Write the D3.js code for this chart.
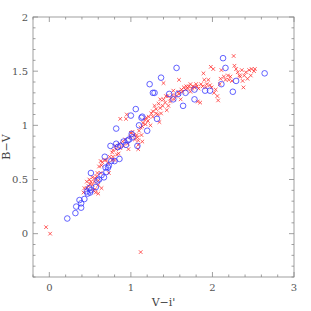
<!DOCTYPE html>
<html>
<head>
<meta charset="utf-8">
<script src="https://cdn.jsdelivr.net/npm/d3@7"></script>
<style>
  body { margin: 0; background: #fff; }
  .tick-label { font-family: "DejaVu Serif", serif; font-size: 10px; fill: #555; }
  .axis-title { font-family: "DejaVu Serif", serif; font-size: 11px; fill: #444; }
</style>
</head>
<body>
<div class="chart"></div>
<script>
var svgWidth = 311;
var svgHeight = 311;

var margin = { top: 17, right: 17, bottom: 34, left: 33 };
var width = svgWidth - margin.left - margin.right;
var height = svgHeight - margin.top - margin.bottom;

// blue circles: [V-i', B-V]
var circleX = [0.22, 0.32, 0.33, 0.37, 0.39, 0.39, 0.43, 0.46, 0.47, 0.49, 0.50, 0.51, 0.51, 0.57, 0.59,
  0.61, 0.64, 0.67, 0.68, 0.69, 0.70, 0.72, 0.73, 0.75, 0.76, 0.80, 0.82, 0.82, 0.84, 0.86, 0.87, 0.91,
  0.94, 0.96, 0.98, 1.01, 1.00, 1.02, 1.06, 1.08, 1.10, 1.14, 1.13, 1.20, 1.23, 1.27, 1.29, 1.32, 1.37,
  1.47, 1.52, 1.56, 1.58, 1.64, 1.67, 1.78, 1.78, 1.91, 1.97, 2.11, 2.13, 2.16, 2.25, 2.29, 2.64];
var circleY = [0.14, 0.19, 0.25, 0.31, 0.24, 0.28, 0.32, 0.39, 0.37, 0.42, 0.38, 0.40, 0.56, 0.43, 0.49,
  0.50, 0.54, 0.52, 0.71, 0.61, 0.57, 0.61, 0.63, 0.81, 0.67, 0.67, 0.97, 0.83, 0.80, 0.69, 0.81, 0.85,
  0.82, 0.86, 0.87, 0.92, 1.09, 0.89, 1.15, 0.81, 1.00, 1.08, 1.07, 0.95, 1.38, 1.30, 1.30, 1.06, 1.44,
  1.29, 1.24, 1.53, 1.29, 1.18, 1.30, 1.24, 1.33, 1.32, 1.32, 1.38, 1.62, 1.53, 1.31, 1.41, 1.48];

// red crosses: [V-i', B-V]
var crossX = [-0.04, 0.01, 1.12,
  0.46, 0.48, 0.50, 0.51, 0.53, 0.55, 0.56, 0.58, 0.60, 0.60, 0.57, 0.61, 0.63, 0.64, 0.65, 0.53, 0.49,
  0.46, 0.43, 0.42, 0.56, 0.54, 0.60, 0.64, 0.59,
  0.68, 0.70, 0.72, 0.74, 0.77, 0.78, 0.78, 0.81, 0.82, 0.80, 0.83, 0.86, 0.87, 0.90, 0.91, 0.93, 0.96,
  0.97, 0.99, 1.00, 1.02, 1.04, 1.05, 1.08, 1.09, 0.87, 0.94, 0.95, 0.85, 0.77, 0.73, 0.63,
  1.10, 1.12, 1.13, 1.14, 1.15, 1.17, 1.18, 1.21, 1.22, 1.24, 1.25, 1.27, 1.27, 1.29, 1.31, 1.31, 1.33,
  1.34, 1.35, 1.36, 1.36, 1.37, 1.39, 1.40, 1.40, 1.42, 1.44, 1.45, 1.46, 1.07, 1.19, 1.09, 1.14, 1.09,
  1.48, 1.49, 1.51, 1.53, 1.55, 1.58, 1.59, 1.61, 1.62, 1.63, 1.65, 1.67, 1.68, 1.70, 1.71, 1.73, 1.75,
  1.76, 1.78, 1.80, 1.81, 1.83, 1.85, 1.86, 1.88, 1.89, 1.90, 1.92, 1.93, 1.95, 1.97, 1.98, 1.99, 2.01,
  2.02, 2.04, 2.06, 2.07, 2.09, 2.10, 2.11, 2.14, 2.16, 2.19, 2.20, 2.22, 2.24, 2.26, 2.27, 2.29, 2.31,
  2.33, 2.34, 2.36, 2.37, 2.38, 2.39, 2.41, 2.43, 2.45, 2.47, 2.48, 2.51, 2.52, 1.59, 1.43, 1.73, 1.82,
  1.52];
var crossY = [0.06, 0.00, -0.17,
  0.42, 0.44, 0.46, 0.48, 0.45, 0.48, 0.51, 0.53, 0.45, 0.37, 0.38, 0.62, 0.56, 0.63, 0.66, 0.52, 0.50,
  0.48, 0.42, 0.38, 0.41, 0.40, 0.49, 0.42, 0.56,
  0.68, 0.68, 0.65, 0.71, 0.75, 0.71, 0.77, 0.81, 0.78, 0.68, 0.73, 0.83, 0.79, 0.85, 0.81, 0.87, 0.83,
  0.78, 0.89, 0.93, 0.94, 0.91, 0.87, 0.89, 0.86, 1.06, 1.06, 1.10, 0.74, 0.68, 0.56, 0.67,
  0.95, 0.98, 0.91, 0.99, 1.02, 1.05, 1.01, 1.04, 1.08, 1.00, 1.11, 1.13, 1.08, 1.18, 1.15, 1.11, 1.10,
  1.20, 1.03, 1.24, 1.16, 1.11, 1.18, 1.39, 1.24, 1.21, 1.14, 1.27, 1.18, 0.91, 1.07, 0.82, 0.85, 0.78,
  1.22, 1.25, 1.28, 1.24, 1.27, 1.31, 1.29, 1.24, 1.33, 1.31, 1.35, 1.33, 1.36, 1.34, 1.36, 1.31, 1.34,
  1.36, 1.35, 1.38, 1.36, 1.34, 1.21, 1.38, 1.36, 1.48, 1.42, 1.35, 1.38, 1.42, 1.37, 1.54, 1.35, 1.52,
  1.30, 1.33, 1.27, 1.23, 1.38, 1.43, 1.51, 1.45, 1.42, 1.46, 1.42, 1.45, 1.41, 1.64, 1.55, 1.52, 1.49,
  1.46, 1.45, 1.51, 1.41, 1.35, 1.46, 1.49, 1.43, 1.51, 1.46, 1.52, 1.50, 1.52, 1.42, 1.27, 1.38, 1.22,
  1.32];

var xTicks = [0, 1, 2, 3];
var yTicks = [0, 0.5, 1, 1.5, 2];
var yTickLabels = ["0", "0.5", "1", "1.5", "2"];

var svg = d3.select(".chart")
  .append("svg")
  .attr("width", svgWidth)
  .attr("height", svgHeight);

var chart = svg.append("g")
  .attr("transform", `translate(${margin.left},${margin.top})`);

var xScale = d3.scaleLinear().domain([-0.2, 3]).range([0, width]);
var yScale = d3.scaleLinear().domain([-0.4, 2]).range([height, 0]);

var frameColor = "#888";

// minor + major ticks on all four sides, pointing inward
var xMinor = d3.range(-0.2, 3.001, 0.2).map(function (v) { return +v.toFixed(2); });
var yMinor = d3.range(-0.4, 2.001, 0.1).map(function (v) { return +v.toFixed(2); });

function isMajor(v, step) { return Math.abs(v / step - Math.round(v / step)) < 1e-6; }

var ticks = chart.append("g").attr("stroke", frameColor).attr("stroke-width", 0.8);
xMinor.forEach(function (v) {
  var len = isMajor(v, 1) ? 5 : 2.5;
  var x = xScale(v);
  ticks.append("line").attr("x1", x).attr("x2", x).attr("y1", height).attr("y2", height - len);
  ticks.append("line").attr("x1", x).attr("x2", x).attr("y1", 0).attr("y2", len);
});
yMinor.forEach(function (v) {
  var len = isMajor(v, 0.5) ? 5 : 2.5;
  var y = yScale(v);
  ticks.append("line").attr("x1", 0).attr("x2", len).attr("y1", y).attr("y2", y);
  ticks.append("line").attr("x1", width).attr("x2", width - len).attr("y1", y).attr("y2", y);
});

// frame
chart.append("rect")
  .attr("width", width)
  .attr("height", height)
  .attr("fill", "none")
  .attr("stroke", frameColor)
  .attr("stroke-width", 0.8);

// tick labels
chart.selectAll(".xlab")
  .data(xTicks)
  .enter()
  .append("text")
  .attr("class", "tick-label")
  .attr("x", function (d) { return xScale(d); })
  .attr("y", height + 14)
  .attr("text-anchor", "middle")
  .text(function (d) { return d; });

chart.selectAll(".ylab")
  .data(yTicks)
  .enter()
  .append("text")
  .attr("class", "tick-label")
  .attr("x", -5)
  .attr("y", function (d) { return yScale(d) + 3.5; })
  .attr("text-anchor", "end")
  .text(function (d, i) { return yTickLabels[i]; });

// axis titles
chart.append("text")
  .attr("class", "axis-title")
  .attr("transform", `translate(${width / 2},${height + 29})`)
  .attr("text-anchor", "middle")
  .text("V\u2212i'");

chart.append("text")
  .attr("class", "axis-title")
  .attr("transform", `translate(-23,${height / 2})rotate(270)`)
  .attr("text-anchor", "middle")
  .text("B\u2212V");

// red crosses
var s = 1.8;
var crosses = chart.append("g")
  .attr("stroke", "#ff2a2a")
  .attr("stroke-width", 0.9)
  .attr("stroke-opacity", 0.85);
crossX.forEach(function (xv, i) {
  var cx = xScale(xv), cy = yScale(crossY[i]);
  crosses.append("path")
    .attr("d", `M${cx - s},${cy - s}L${cx + s},${cy + s}M${cx - s},${cy + s}L${cx + s},${cy - s}`);
});

// blue circles
chart.append("g")
  .selectAll("circle")
  .data(circleX)
  .enter()
  .append("circle")
  .attr("cx", function (d) { return xScale(d); })
  .attr("cy", function (d, i) { return yScale(circleY[i]); })
  .attr("r", 2.8)
  .attr("fill", "none")
  .attr("stroke", "#3333ff")
  .attr("stroke-width", 0.9)
  .attr("stroke-opacity", 0.85);
</script>
</body>
</html>
